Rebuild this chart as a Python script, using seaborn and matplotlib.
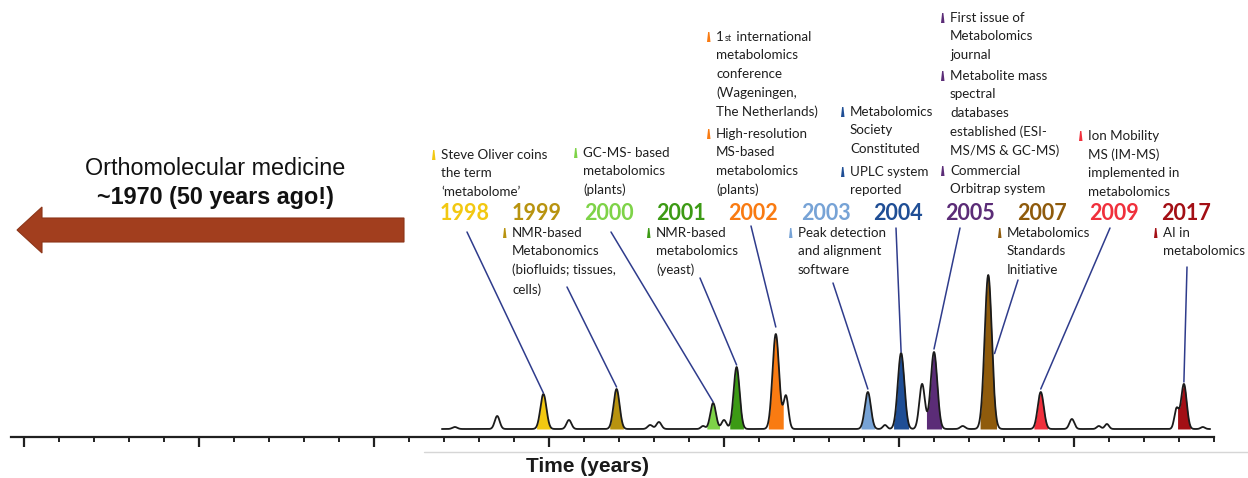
import numpy as np
import pandas as pd
import seaborn as sns
import matplotlib.pyplot as plt
from matplotlib.patches import FancyArrow, Polygon

# --------------------------------------------------
# Data
# --------------------------------------------------

YEARS = ["1998", "1999", "2000", "2001", "2002", "2003", "2004", "2005", "2007", "2009", "2017"]
YEAR_COLORS = ["#F2C811", "#B8930F", "#7ED348", "#3C9A14", "#F97B12", "#77A3D6",
               "#1F4E95", "#5B2C77", "#8F5B0C", "#F0303C", "#A30F15"]

# milestone peaks: position on the time axis (tick units), height above baseline, width
PEAK_POS = [14.84, 16.93, 19.69, 20.36, 21.48, 24.11, 25.06, 26.00, 27.55, 29.05, 33.14]
PEAK_HEIGHT = [35, 40, 26, 62, 95, 37, 76, 77, 154, 37, 45]
PEAK_SIGMA = [0.086, 0.086, 0.080, 0.086, 0.094, 0.086, 0.094, 0.094, 0.103, 0.086, 0.080]

# unlabelled peaks of the chromatogram
MINOR_POS = [12.31, 13.52, 15.57, 17.89, 18.14, 19.40, 20.00, 21.77,
             24.60, 25.66, 26.82, 29.94, 30.71, 30.94, 32.93, 33.68]
MINOR_HEIGHT = [2, 13, 9, 4, 7, 3, 9, 33, 4, 45, 3, 10, 3, 5, 20, 2]
MINOR_SIGMA = [0.07, 0.07, 0.07, 0.07, 0.07, 0.06, 0.07, 0.07,
               0.06, 0.08, 0.07, 0.07, 0.06, 0.06, 0.063, 0.06]

BASELINE = 8
TRACE_START, TRACE_END = 11.94, 33.89

DESC_YEAR = ["1998", "1999", "2000", "2001", "2002", "2002", "2003", "2004",
             "2004", "2005", "2005", "2005", "2007", "2009", "2017"]
DESC_TEXT = [
    "Steve Oliver coins\nthe term\n‘metabolome’",
    "NMR-based\nMetabonomics\n(biofluids; tissues,\ncells)",
    "GC-MS- based\nmetabolomics\n(plants)",
    "NMR-based\nmetabolomics\n(yeast)",
    "1st international\nmetabolomics\nconference\n(Wageningen,\nThe Netherlands)",
    "High-resolution\nMS-based\nmetabolomics\n(plants)",
    "Peak detection\nand alignment\nsoftware",
    "Metabolomics\nSociety\nConstituted",
    "UPLC system\nreported",
    "First issue of\nMetabolomics\njournal",
    "Metabolite mass\nspectral\ndatabases\nestablished (ESI-\nMS/MS & GC-MS)",
    "Commercial\nOrbitrap system",
    "Metabolomics\nStandards\nInitiative",
    "Ion Mobility\nMS (IM-MS)\nimplemented in\nmetabolomics",
    "AI in\nmetabolomics",
]

# --------------------------------------------------
# Layout (figure pixels -> data units)
# --------------------------------------------------

X0, DX, Y0 = 24, 35, 437


def P(px, py):
    return (px - X0) / DX, Y0 - py


YEAR_X = np.linspace(465, 1186, len(YEARS))
YEAR_Y = 213
DESC_XY = [(441, 155), (512, 233), (583, 153), (656, 233), (716, 37), (716, 134),
           (798, 233), (850, 112), (850, 172), (950, 18), (950, 76), (950, 171),
           (1007, 233), (1088, 136), (1163, 233)]
LEADER_START = [(467, 232), (567, 287), (611, 232), (700, 278), (751, 226), (833, 283),
                (896, 228), (960, 228), (1018, 280), (1110, 228), (1187, 267)]
LEADER_HIT = [1, 1, 1, 1, 1, 1, 1, 1, 0.49, 1, 1]
LEADER_GAP = [1, 2, 1, 2, 7, 3, 1, 3, 0, 3, 2]

DESC_FS = 9.6
LINESP = 1.63
LINE_STEP = 18.4
TXT = "#1f1f1f"

# --------------------------------------------------
# Trace
# --------------------------------------------------

t = np.linspace(TRACE_START, TRACE_END, 5000)
signal = np.full_like(t, BASELINE, dtype=float)
for c, h, s in zip(PEAK_POS + MINOR_POS, PEAK_HEIGHT + MINOR_HEIGHT, PEAK_SIGMA + MINOR_SIGMA):
    signal += h * np.exp(-0.5 * ((t - c) / s) ** 2)
trace = pd.DataFrame({"time": t, "signal": signal})

# --------------------------------------------------
# Plot
# --------------------------------------------------

sns.set_theme(style="white")
plt.rcParams["font.family"] = ["Lato", "DejaVu Sans"]

fig = plt.figure(figsize=(12.48, 4.78), dpi=100)
ax = fig.add_axes([0, 0, 1, 1])
ax.set_xlim(P(0, 0)[0], P(1248, 0)[0])
ax.set_ylim(P(0, 478)[1], P(0, 0)[1])

for c, s, col in zip(PEAK_POS, PEAK_SIGMA, YEAR_COLORS):
    m = np.abs(t - c) <= 2.3 * s
    ax.fill_between(t[m], BASELINE, signal[m], color=col, lw=0, zorder=2)

sns.lineplot(data=trace, x="time", y="signal", color="#1b1b1b", lw=1.3, ax=ax, zorder=3)
ax.set_xlabel("")
ax.set_ylabel("")

# time axis
for side in ["top", "right", "left"]:
    ax.spines[side].set_visible(False)
ax.spines["bottom"].set_position(("data", 0))
ax.spines["bottom"].set_bounds(P(11, 0)[0], P(1214, 0)[0])
ax.spines["bottom"].set_linewidth(1.6)
ax.spines["bottom"].set_color("#202020")
ax.set_xticks(range(0, 35, 5))
ax.set_xticks(range(0, 35), minor=True)
ax.set_yticks([])
ax.tick_params(axis="x", which="major", bottom=True, direction="out", length=7,
               width=1.6, color="#202020", labelbottom=False)
ax.tick_params(axis="x", which="minor", bottom=True, direction="out", length=3.8,
               width=1.4, color="#202020")
ax.axhline(P(0, 452)[1], xmin=424 / 1248, color="#d6d6d6", lw=1, zorder=1)

ax.text(*P(587, 467), "Time (years)", ha="center", va="center", fontsize=15,
        fontweight="bold", family="Liberation Sans", color="#1a1a1a")

# year labels
for x, yr, col in zip(YEAR_X, YEARS, YEAR_COLORS):
    ax.text(*P(x, YEAR_Y), yr, ha="center", va="center", fontsize=15.5,
            fontweight="bold", color=col)

# descriptions
for yr, txt, (lx, cy) in zip(DESC_YEAR, DESC_TEXT, DESC_XY):
    col = YEAR_COLORS[YEARS.index(yr)]
    top = cy - 6
    if txt.startswith("1st"):
        first, rest = txt.split("\n", 1)
        t1 = ax.text(*P(lx, top), "1", ha="left", va="top", fontsize=DESC_FS, color=TXT)
        t2 = ax.annotate("st", xy=(1, 0), xycoords=t1, xytext=(0.6, 0),
                         textcoords="offset points", ha="left", va="bottom",
                         fontsize=6.5, color=TXT)
        ax.annotate(first[3:], xy=(1, 0), xycoords=t2, xytext=(0.6, 0),
                    textcoords="offset points", ha="left", va="bottom",
                    fontsize=DESC_FS, color=TXT)
        ax.text(*P(lx, top + LINE_STEP), rest, ha="left", va="top", fontsize=DESC_FS,
                linespacing=LINESP, color=TXT)
    else:
        ax.text(*P(lx, top), txt, ha="left", va="top", fontsize=DESC_FS,
                linespacing=LINESP, color=TXT)
    mark = [P(lx - 9, cy + 5), P(lx - 5.5, cy + 5), P(lx - 6.6, cy - 5), P(lx - 7.9, cy - 5)]
    ax.add_patch(Polygon(mark, closed=True, color=col, lw=0))

# leader lines from labels to peaks
for (sx, sy), c, h, s, f, g in zip(LEADER_START, PEAK_POS, PEAK_HEIGHT, PEAK_SIGMA,
                                    LEADER_HIT, LEADER_GAP):
    if f < 1:
        ex = c + s * np.sqrt(-2 * np.log(f)) + 2 / DX
    else:
        ex = c
    ey = BASELINE + h * f + g
    x0, y0 = P(sx, sy)
    ax.plot([x0, ex], [y0, ey], color="#2F3C8C", lw=1.1, zorder=4)

# arrow back to 1970
ax0, ay0 = P(404, 230)
ax.add_patch(FancyArrow(ax0, ay0, (17 - 404) / DX, 0, width=24, head_width=46,
                        head_length=25 / DX, length_includes_head=True,
                        facecolor="#A23E1E", edgecolor="#8C3518", lw=0.8))
ax.text(*P(215, 168), "Orthomolecular medicine", ha="center", va="center",
        fontsize=16.8, family="Liberation Sans", color="#111111")
ax.text(*P(215, 197), "~1970 (50 years ago!)", ha="center", va="center",
        fontsize=16.8, fontweight="bold", family="Liberation Sans", color="#111111")

fig.savefig("out.png", dpi=100)
